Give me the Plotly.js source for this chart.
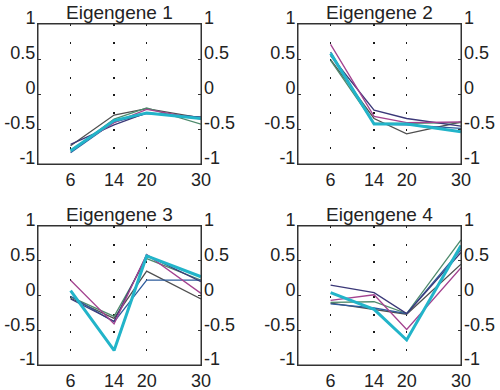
<!DOCTYPE html>
<html>
<head>
<meta charset="utf-8">
<script src="https://cdn.plot.ly/plotly-3.0.1.min.js"></script>
<style>html,body{margin:0;padding:0;background:#fff;}#chart{width:500px;height:390px;}</style>
</head>
<body>
<div id="chart"></div>
<script>
// Time points (x axis)
const timepoints = [6, 14, 20, 30];
const panelTitles = ['Eigengene 1', 'Eigengene 2', 'Eigengene 3', 'Eigengene 4'];
const yTickVals = [-1, -0.5, 0, 0.5, 1];
const yTickText = ['-1', '-0.5', '0', '0.5', '1'];

// Each series: values per panel (Eigengene 1..4)
const grayVals    = [[-0.74, -0.30, -0.21, -0.34], [0.49, -0.35, -0.57, -0.40], [-0.04, -0.33, 0.35, -0.05], [-0.11, -0.20, -0.27, 0.45]];
const navyVals    = [[-0.72, -0.44, -0.27, -0.33], [0.55, -0.23, -0.35, -0.46], [-0.05, -0.37, 0.58, 0.20], [0.15, 0.04, -0.26, 0.62]];
const magentaVals = [[-0.80, -0.41, -0.22, -0.36], [0.71, -0.32, -0.41, -0.40], [0.22, -0.41, 0.59, 0.03], [-0.07, 0.01, -0.49, 0.40]];
const greenVals   = [[-0.82, -0.36, -0.20, -0.43], [0.48, -0.42, -0.42, -0.41], [-0.02, -0.30, 0.53, 0.22], [-0.10, -0.09, -0.26, 0.80]];
const blueVals    = [[-0.84, -0.40, -0.28, -0.33], [0.60, -0.43, -0.44, -0.49], [-0.01, -0.38, 0.22, 0.22], [-0.12, -0.18, -0.26, 0.66]];
const cyanVals    = [[-0.81, -0.38, -0.27, -0.35], [0.58, -0.43, -0.43, -0.54], [0.07, -0.79, 0.57, 0.27], [0.04, -0.20, -0.64, 0.72]];

const seriesList = [
  {vals: grayVals, color: '#4f4f4f', width: 1.3},
  {vals: greenVals, color: '#4e8a6c', width: 1.3},
  {vals: blueVals, color: '#2e5c9c', width: 1.3},
  {vals: navyVals, color: '#3b3878', width: 1.3},
  {vals: magentaVals, color: '#a3428f', width: 1.3},
  {vals: cyanVals, color: '#22b4c9', width: 3}
];

const W = 500, H = 390;
// panel boxes in pixels [left, right, top, bottom]
const boxes = [[38, 201, 24, 164], [298, 461, 24, 164], [38, 201, 226, 365], [298, 461, 226, 365]];

const fontFam = 'Liberation Sans, Arial, sans-serif';
const traces = [];
const layout = {
  width: W, height: H,
  margin: {l: 0, r: 0, t: 0, b: 0},
  paper_bgcolor: '#fff', plot_bgcolor: 'rgba(0,0,0,0)',
  showlegend: false,
  font: {family: fontFam, size: 17, color: '#222'},
  annotations: [],
  shapes: []
};

for (let p = 0; p < 4; p++) {
  const n = p + 1;
  const xa = n === 1 ? 'x' : 'x' + n;
  const ya = n === 1 ? 'y' : 'y' + n;
  const yr = 'y' + (n + 4);
  const b = boxes[p];
  const xd = [b[0] / W, b[1] / W];
  const yd = [1 - b[3] / H, 1 - b[2] / H];
  seriesList.forEach(s => {
    traces.push({x: timepoints, y: s.vals[p], xaxis: xa, yaxis: ya, type: 'scatter', mode: 'lines',
      line: {color: s.color, width: s.width}, hoverinfo: 'skip'});
  });
  // invisible trace so the right-hand axis is drawn
  traces.push({x: timepoints, y: cyanVals[p], xaxis: xa, yaxis: yr, type: 'scatter', mode: 'lines',
    line: {color: 'rgba(0,0,0,0)', width: 0}, hoverinfo: 'skip'});

  layout['xaxis' + (n === 1 ? '' : n)] = {
    domain: xd, anchor: ya, range: [0, 30], tickvals: timepoints, ticktext: timepoints.map(String),
    showgrid: true, gridcolor: '#1a1a1a', griddash: '2px,15.5px', gridwidth: 1.4,
    showline: true, mirror: true, linecolor: '#333', linewidth: 1,
    ticks: '', zeroline: false, ticklabelstandoff: -1, tickfont: {size: 18, color: '#222'}
  };
  layout['yaxis' + (n === 1 ? '' : n)] = {
    domain: yd, anchor: xa, range: [-1, 1], tickvals: yTickVals, ticktext: yTickText,
    showgrid: false, zeroline: false, showline: true, mirror: true, linecolor: '#333', linewidth: 1,
    ticks: 'inside', ticklen: 3, tickcolor: '#333', ticklabelshift: -6, ticklabelstandoff: -2,
    tickfont: {size: 18, color: '#222'}
  };
  layout['yaxis' + (n + 4)] = {
    overlaying: ya, anchor: xa, side: 'right', range: [-1, 1], tickvals: yTickVals, ticktext: yTickText,
    showgrid: false, zeroline: false, showline: false,
    ticks: 'inside', ticklen: 3, tickcolor: '#333', ticklabelshift: -6, ticklabelstandoff: 2,
    tickfont: {size: 18, color: '#222'}
  };
  // axis frame
  layout.shapes.push({
    type: 'rect', xref: xa + ' domain', yref: ya + ' domain', x0: 0, x1: 1, y0: 0, y1: 1,
    line: {color: '#333', width: 1}, fillcolor: 'rgba(0,0,0,0)', layer: 'above'
  });
  layout.annotations.push({
    text: panelTitles[p], xref: 'paper', yref: 'paper', x: (xd[0] + xd[1]) / 2, y: yd[1],
    xanchor: 'center', yanchor: 'bottom', yshift: -1, showarrow: false,
    font: {family: fontFam, size: 19, color: '#222'}
  });
}

Plotly.newPlot('chart', traces, layout, {displayModeBar: false, staticPlot: true});
</script>
</body>
</html>
